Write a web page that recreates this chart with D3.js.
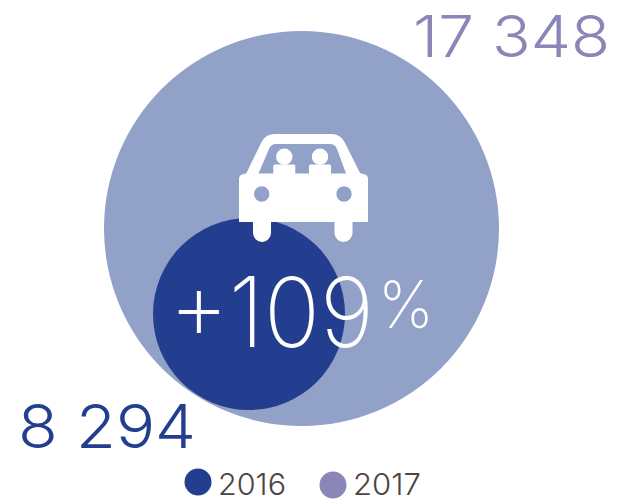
<!DOCTYPE html>
<html><head><meta charset="utf-8">
<script src="https://cdn.jsdelivr.net/npm/d3@7"></script>
<style>html,body{margin:0;padding:0;background:#fff}svg{display:block}text{font-family:Inter,Lato,sans-serif;font-weight:300}</style>
</head><body><svg id="c" width="630" height="502"></svg>
<script>
const years = ["2016", "2017"];
const values = [8294, 17348];
const valueLabels = ["8 294", "17 348"];
const change = "+109";
const circleColors = ["#243e8f", "#92a1c8"];
const legendColors = ["#243e8f", "#8a87b8"];
const labelColors = ["#243e8f", "#8a87b8"];

const svg = d3.select("#c");
const r = d3.scaleLinear().domain(values).range([96, 197.5]);
const centers = [[249, 314], [301.5, 228.5]];

svg.selectAll("circle.m").data([1, 0]).join("circle").attr("class", "m")
  .attr("cx", i => centers[i][0]).attr("cy", i => centers[i][1])
  .attr("r", i => r(values[i])).attr("fill", i => circleColors[i]);

// car icon
const car = d3.path();
car.moveTo(239, 179);
car.quadraticCurveTo(239, 174.5, 244, 174);
car.lineTo(246.5, 173);
car.lineTo(261, 143);
car.quadraticCurveTo(265, 134, 275, 134);
car.lineTo(331, 134);
car.quadraticCurveTo(341, 134, 345, 143);
car.lineTo(360, 173);
car.lineTo(363, 174);
car.quadraticCurveTo(368, 174.5, 368, 179);
car.lineTo(368, 222);
car.lineTo(352.5, 222);
car.lineTo(352.5, 233);
car.arc(343.5, 233, 9, 0, Math.PI);
car.lineTo(334.5, 222);
car.lineTo(271, 222);
car.lineTo(271, 233);
car.arc(262, 233, 9, 0, Math.PI);
car.lineTo(253, 222);
car.lineTo(239, 222);
car.closePath();
car.moveTo(258.5, 173.5);
car.lineTo(269, 149);
car.quadraticCurveTo(271, 144, 276, 144);
car.lineTo(330, 144);
car.quadraticCurveTo(335, 144, 337, 149);
car.lineTo(346, 173.5);
car.closePath();
[[261.7, 194], [344, 194]].forEach(([x, y]) => {
  car.moveTo(x + 7.7, y);
  car.arc(x, y, 7.7, 0, 2 * Math.PI);
  car.closePath();
});
svg.append("path").attr("d", car.toString()).attr("fill", "#fff").attr("fill-rule", "evenodd");
[284.3, 320].forEach(x => {
  svg.append("circle").attr("cx", x).attr("cy", 156.7).attr("r", 8.2).attr("fill", "#fff");
  svg.append("rect").attr("x", x - 11).attr("y", 164.5).attr("width", 22).attr("height", 12).attr("rx", 1.5).attr("fill", "#fff");
});

const fit = (sel, len) => sel.attr("textLength", len).attr("lengthAdjust", "spacingAndGlyphs");

fit(svg.append("text").attr("x", 18).attr("y", 448).attr("font-size", 61)
  .attr("fill", labelColors[0]).text(valueLabels[0]), 178);
fit(svg.append("text").attr("x", 413).attr("y", 56.5).attr("font-size", 58)
  .attr("fill", labelColors[1]).text(valueLabels[1]), 197);

fit(svg.append("text").attr("x", 169).attr("y", 347).attr("font-size", 97)
  .attr("font-weight", 200).style("font-weight", 200)
  .attr("fill", "#fff").text(change), 205);
fit(svg.append("text").attr("x", 378).attr("y", 328).attr("font-size", 66)
  .attr("font-weight", 200).style("font-weight", 200)
  .attr("fill", "#fff").text("%"), 56);

const legendX = d3.scaleOrdinal().domain(years).range([198, 333]);
const legendY = d3.scaleOrdinal().domain(years).range([482, 485]);
svg.selectAll("circle.l").data(years).join("circle").attr("class", "l")
  .attr("cx", d => legendX(d)).attr("cy", d => legendY(d)).attr("r", 13.5)
  .attr("fill", (d, i) => legendColors[i]);
svg.selectAll("text.l").data(years).join("text").attr("class", "l")
  .attr("x", d => legendX(d) + 20).attr("y", 495).attr("font-size", 30)
  .attr("fill", "#4a4543").text(d => d)
  .attr("textLength", 68).attr("lengthAdjust", "spacingAndGlyphs");
</script></body></html>
